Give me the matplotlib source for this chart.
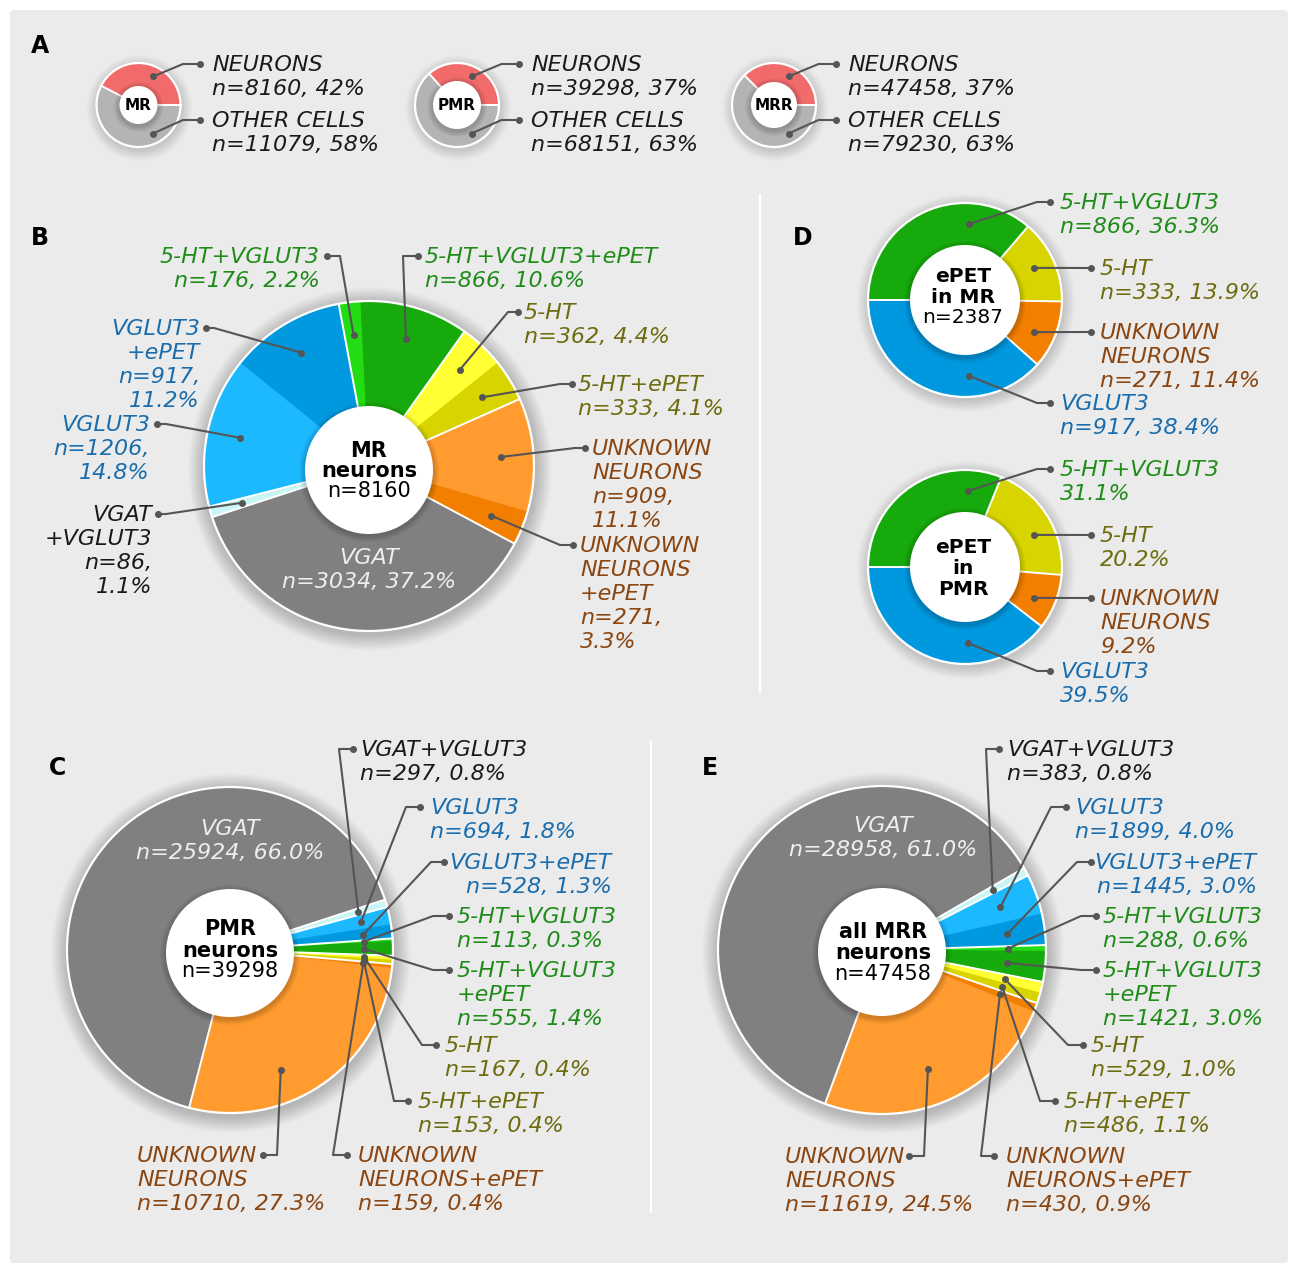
import numpy as np
from matplotlib import pyplot as plt
from matplotlib.patches import Circle, FancyBboxPatch

W, H = 1298, 1273
FS = 16
LINE = '#555555'

# ---- data ----
# panel A: all cells per region
a_regions = ['MR', 'PMR', 'MRR']
a_neurons = [8160, 39298, 47458]
a_neurons_pct = [42, 37, 37]
a_other = [11079, 68151, 79230]
a_other_pct = [58, 63, 63]

# panel B: MR neurons (clockwise)
b_types = ['5-HT+VGLUT3', '5-HT+VGLUT3+ePET', '5-HT', '5-HT+ePET', 'UNKNOWN',
           'UNKNOWN+ePET', 'VGAT', 'VGAT+VGLUT3', 'VGLUT3', 'VGLUT3+ePET']
b_counts = [176, 866, 362, 333, 909, 271, 3034, 86, 1206, 917]
b_pct = [2.2, 10.6, 4.4, 4.1, 11.1, 3.3, 37.2, 1.1, 14.8, 11.2]

# panels C / E: PMR and all MRR neurons (clockwise)
ce_types = ['VGAT+VGLUT3', 'VGLUT3', 'VGLUT3+ePET', '5-HT+VGLUT3', '5-HT+VGLUT3+ePET',
            '5-HT', '5-HT+ePET', 'UNKNOWN+ePET', 'UNKNOWN', 'VGAT']
c_counts = [297, 694, 528, 113, 555, 167, 153, 159, 10710, 25924]
c_pct = [0.8, 1.8, 1.3, 0.3, 1.4, 0.4, 0.4, 0.4, 27.3, 66.0]
e_counts = [383, 1899, 1445, 288, 1421, 529, 486, 430, 11619, 28958]
e_pct = [0.8, 4.0, 3.0, 0.6, 3.0, 1.0, 1.1, 0.9, 24.5, 61.0]

# panel D: ePET neurons
d_types = ['5-HT+VGLUT3+ePET', '5-HT+ePET', 'UNKNOWN+ePET', 'VGLUT3+ePET']
d_mr_counts = [866, 333, 271, 917]
d_mr_pct = [36.3, 13.9, 11.4, 38.4]
d_pmr_pct = [31.1, 20.2, 9.2, 39.5]

colors = {
    '5-HT+VGLUT3': '#22dd14', '5-HT+VGLUT3+ePET': '#17aa0c',
    '5-HT': '#ffff33', '5-HT+ePET': '#d8d400',
    'UNKNOWN': '#ff9b2f', 'UNKNOWN+ePET': '#f27f00',
    'VGAT': '#808080', 'VGAT+VGLUT3': '#c9f5f5',
    'VGLUT3': '#1cb9ff', 'VGLUT3+ePET': '#0099e0',
    'NEURONS': '#f26b6b', 'OTHER': '#b4b4b4',
}
groups = {
    '5-HT+VGLUT3': 'g', '5-HT+VGLUT3+ePET': 'g', '5-HT': 'y', '5-HT+ePET': 'y',
    'UNKNOWN': 'o', 'UNKNOWN+ePET': 'o', 'VGAT': 'k', 'VGAT+VGLUT3': 'c',
    'VGLUT3': 'b', 'VGLUT3+ePET': 'b',
}
T_GREEN = '#1f8c1a'
T_BLUE = '#1a6dad'
T_OLIVE = '#6e6c0e'
T_BROWN = '#8a4510'
T_BLACK = '#1a1a1a'

fig = plt.figure(figsize=(W / 100, H / 100), dpi=100, facecolor='white')
ax = fig.add_axes([0, 0, 1, 1])
ax.axis('off')
ax.add_patch(FancyBboxPatch((10, 10), W - 20, H - 20, boxstyle='round,pad=0,rounding_size=4',
                            fc='#ebebeb', ec='none', zorder=0))


def draw_pie(cx, cy, r, vals, cols, grps, start, ccw=False, hole=0, disk=0, disk_dy=0, shadow=14):
    yc = H - cy
    for k in range(shadow):
        ax.add_patch(Circle((cx + 1, yc - 3), r + 1 + k * 1.2, color='black',
                            alpha=0.014, lw=0, zorder=1))
    wp = dict(linewidth=0.6)
    if hole:
        wp['width'] = r - hole
    wedges, _ = ax.pie(vals, colors=cols, startangle=start, counterclock=ccw, radius=r,
                       center=(cx, yc), wedgeprops=wp, frame=True)
    for w in wedges:
        w.set_zorder(3)
        w.set_edgecolor(w.get_facecolor())
    n = len(wedges)
    for i in range(n):
        j = (i + 1) % n
        if grps[i] != grps[j]:
            a = np.radians(wedges[i].theta2 if ccw else wedges[i].theta1)
            ax.plot([cx + hole * np.cos(a), cx + r * np.cos(a)],
                    [yc + hole * np.sin(a), yc + r * np.sin(a)],
                    color='white', lw=1.4, zorder=3.5)
    ax.add_patch(Circle((cx, yc), r, fill=False, ec='white', lw=1.6, zorder=3.6))
    if disk:
        dc = yc - disk_dy
        for k in range(6):
            ax.add_patch(Circle((cx, dc - 2), disk + 1 + k, color='black',
                                alpha=0.03, lw=0, zorder=3.7))
        ax.add_patch(Circle((cx, dc), disk, color='white', lw=0, zorder=4))
    return wedges


def label(x, dot_y, txt, col, ha='left', size=FS):
    em = size * 100 / 72
    ax.text(x, H - (dot_y - 0.395 * em), txt, ha=ha, va='top', multialignment=ha,
            color=col, fontsize=size, style='italic', linespacing=1.25, zorder=9)


def put_labels(wedges, specs, counts, pcts):
    for idx, tmpl, tcol, tx, ha, dx, dy, ex, rr, ang in specs:
        w = wedges[idx]
        a = np.radians((w.theta1 + w.theta2) / 2 if ang is None else ang)
        wx = w.center[0] + rr * np.cos(a)
        wy = w.center[1] + rr * np.sin(a)
        xs, ys = [wx], [wy]
        if ex is not None:
            xs.append(ex)
            ys.append(H - dy)
        xs.append(dx)
        ys.append(H - dy)
        ax.plot(xs, ys, color=LINE, lw=1.5, zorder=7, solid_joinstyle='round')
        ax.plot([wx, dx], [wy, H - dy], 'o', color=LINE, ms=4, zorder=7)
        n = counts[idx] if counts is not None else ''
        label(tx, dy, tmpl.format(n=n, p=pcts[idx]), tcol, ha)


def center_text(cx, baselines, lines, weights, size):
    for y, s, wt in zip(baselines, lines, weights):
        ax.text(cx, H - y, s, ha='center', va='baseline', fontsize=size,
                fontweight=wt, color='black', zorder=10)


def panel_letter(x, y, s):
    ax.text(x, H - y, s, ha='center', va='center', fontsize=17, fontweight='bold', zorder=10)


# ---- panel A ----
panel_letter(40, 46, 'A')
a_centers = [138.5, 457, 774]
a_disks = [19, 24, 23]
for i, cx in enumerate(a_centers):
    ws = draw_pie(cx, 105, 42, [a_neurons[i], a_other[i]],
                  [colors['NEURONS'], colors['OTHER']], ['n', 'o'],
                  0, ccw=True, hole=a_disks[i], disk=a_disks[i], shadow=9)
    specs = [(0, 'NEURONS\nn={n}, {p}%', T_BLACK, cx + 74, 'left', cx + 61.5, 64, cx + 44.5, 32, 63),
             (1, 'OTHER CELLS\nn={n}, {p}%', T_BLACK, cx + 74, 'left', cx + 61.5, 120, cx + 44.5, 32, -63)]
    put_labels(ws, specs, [a_neurons[i], a_other[i]], [a_neurons_pct[i], a_other_pct[i]])
    center_text(cx, [110], [a_regions[i]], ['bold'], 11)

# ---- panel B ----
panel_letter(40, 238, 'B')
wb = draw_pie(369, 466, 165, b_counts, [colors[t] for t in b_types],
              [groups[t] for t in b_types], 100.6, disk=64, disk_dy=4)
b_specs = [
    (0, '5-HT+VGLUT3\nn={n}, {p}%', T_GREEN, 320, 'right', 327, 256, 340, 132, None),
    (1, '5-HT+VGLUT3+ePET\nn={n}, {p}%', T_GREEN, 425, 'left', 418, 256, 403, 132, None),
    (2, '5-HT\nn={n}, {p}%', T_OLIVE, 524, 'left', 518, 312, 508, 132, None),
    (3, '5-HT+ePET\nn={n}, {p}%', T_OLIVE, 578, 'left', 572, 384, 560, 132, None),
    (4, 'UNKNOWN\nNEURONS\nn={n},\n{p}%', T_BROWN, 592, 'left', 585, 448, 575, 132, None),
    (5, 'UNKNOWN\nNEURONS\n+ePET\nn={n},\n{p}%', T_BROWN, 580, 'left', 573, 545, 560, 132, None),
    (7, 'VGAT\n+VGLUT3\nn={n},\n{p}%', T_BLACK, 152, 'right', 158, 514, 166, 132, None),
    (8, 'VGLUT3\nn={n},\n{p}%', T_BLUE, 150, 'right', 157, 424, 166, 132, None),
    (9, 'VGLUT3\n+ePET\nn={n},\n{p}%', T_BLUE, 200, 'right', 206, 328, 214, 132, None),
]
put_labels(wb, b_specs, b_counts, b_pct)
label(369, 557, 'VGAT\nn={}, {}%'.format(b_counts[6], b_pct[6]), '#eeeeee', 'center')
center_text(369, [457, 477, 497], ['MR', 'neurons', 'n=8160'], ['bold', 'bold', 'normal'], 15)

# divider lines
ax.plot([760, 760], [H - 195, H - 692], color='white', lw=1.6, zorder=1)
ax.plot([651, 651], [H - 742, H - 1212], color='white', lw=1.6, zorder=1)

# ---- panel D ----
panel_letter(803, 238, 'D')
d_cols = [colors[t] for t in d_types]
wd1 = draw_pie(965, 300, 97, d_mr_counts, d_cols, d_types, 180, hole=55, disk=55, shadow=10)
d1_specs = [
    (0, '5-HT+VGLUT3\nn={n}, {p}%', T_GREEN, 1060, 'left', 1050, 202, 1037, 76, 87),
    (1, '5-HT\nn={n}, {p}%', T_OLIVE, 1100, 'left', 1091, 268, None, 76, 25),
    (2, 'UNKNOWN\nNEURONS\nn={n}, {p}%', T_BROWN, 1100, 'left', 1091, 332, None, 76, -25),
    (3, 'VGLUT3\nn={n}, {p}%', T_BLUE, 1060, 'left', 1050, 403, 1037, 76, -87),
]
put_labels(wd1, d1_specs, d_mr_counts, d_mr_pct)
center_text(963, [282, 303, 323], ['ePET', 'in MR', 'n=2387'], ['bold', 'bold', 'normal'], 14.5)

wd2 = draw_pie(965, 567, 97, d_pmr_pct, d_cols, d_types, 180, hole=55, disk=55, shadow=10)
d2_specs = [
    (0, '5-HT+VGLUT3\n{p}%', T_GREEN, 1060, 'left', 1050, 469, 1037, 76, 88),
    (1, '5-HT\n{p}%', T_OLIVE, 1100, 'left', 1091, 535, None, 76, 25),
    (2, 'UNKNOWN\nNEURONS\n{p}%', T_BROWN, 1100, 'left', 1091, 598, None, 76, -24),
    (3, 'VGLUT3\n{p}%', T_BLUE, 1060, 'left', 1050, 671, 1037, 76, -88),
]
put_labels(wd2, d2_specs, None, d_pmr_pct)
center_text(963, [553, 574, 595], ['ePET', 'in', 'PMR'], ['bold', 'bold', 'bold'], 14.5)

# ---- panel C ----
panel_letter(58, 768, 'C')
ce_cols = [colors[t] for t in ce_types]
ce_grps = [groups[t] for t in ce_types]
wc = draw_pie(230, 950, 163, c_counts, ce_cols, ce_grps, 18, disk=64, disk_dy=3)
c_specs = [
    (0, 'VGAT+VGLUT3\nn={n}, {p}%', T_BLACK, 360, 'left', 353, 749, 339, 134, None),
    (1, 'VGLUT3\nn={n}, {p}%', T_BLUE, 430, 'left', 420, 807, 406, 134, None),
    (2, 'VGLUT3+ePET\nn={n}, {p}%', T_BLUE, 612, 'right', 444, 862, 431, 134, None),
    (3, '5-HT+VGLUT3\nn={n}, {p}%', T_GREEN, 457, 'left', 449, 916, 433, 134, None),
    (4, '5-HT+VGLUT3\n+ePET\nn={n}, {p}%', T_GREEN, 457, 'left', 449, 970, 433, 134, None),
    (5, '5-HT\nn={n}, {p}%', T_OLIVE, 445, 'left', 436, 1045, 422, 134, None),
    (6, '5-HT+ePET\nn={n}, {p}%', T_OLIVE, 418, 'left', 408, 1101, 394, 134, None),
    (7, 'UNKNOWN\nNEURONS+ePET\nn={n}, {p}%', T_BROWN, 358, 'left', 347, 1155, 333, 134, None),
    (8, 'UNKNOWN\nNEURONS\nn={n}, {p}%', T_BROWN, 137, 'left', 263, 1155, 277, 130, -67),
]
put_labels(wc, c_specs, c_counts, c_pct)
label(230, 828, 'VGAT\nn={}, {}%'.format(c_counts[9], c_pct[9]), '#eeeeee', 'center')
center_text(230, [935, 957, 977], ['PMR', 'neurons', 'n=39298'], ['bold', 'bold', 'normal'], 15)

# ---- panel E ----
panel_letter(710, 768, 'E')
we = draw_pie(882, 950, 164, e_counts, ce_cols, ce_grps, 30, disk=64, disk_dy=2)
e_specs = [
    (0, 'VGAT+VGLUT3\nn={n}, {p}%', T_BLACK, 1007, 'left', 999, 749, 986, 126, None),
    (1, 'VGLUT3\nn={n}, {p}%', T_BLUE, 1075, 'left', 1066, 807, 1051, 126, None),
    (2, 'VGLUT3+ePET\nn={n}, {p}%', T_BLUE, 1257, 'right', 1091, 862, 1077, 126, None),
    (3, '5-HT+VGLUT3\nn={n}, {p}%', T_GREEN, 1103, 'left', 1096, 916, 1081, 126, None),
    (4, '5-HT+VGLUT3\n+ePET\nn={n}, {p}%', T_GREEN, 1103, 'left', 1096, 970, 1081, 126, None),
    (5, '5-HT\nn={n}, {p}%', T_OLIVE, 1091, 'left', 1083, 1045, 1068, 126, None),
    (6, '5-HT+ePET\nn={n}, {p}%', T_OLIVE, 1064, 'left', 1055, 1101, 1040, 126, None),
    (7, 'UNKNOWN\nNEURONS+ePET\nn={n}, {p}%', T_BROWN, 1006, 'left', 994, 1156, 981, 126, None),
    (8, 'UNKNOWN\nNEURONS\nn={n}, {p}%', T_BROWN, 785, 'left', 909, 1156, 924, 128, -69),
]
put_labels(we, e_specs, e_counts, e_pct)
label(883, 825, 'VGAT\nn={}, {}%'.format(e_counts[9], e_pct[9]), '#eeeeee', 'center')
center_text(883, [938, 959, 980], ['all MRR', 'neurons', 'n=47458'], ['bold', 'bold', 'normal'], 15)

ax.set_xlim(0, W)
ax.set_ylim(0, H)
fig.savefig('out.png', dpi=100, facecolor='white')
